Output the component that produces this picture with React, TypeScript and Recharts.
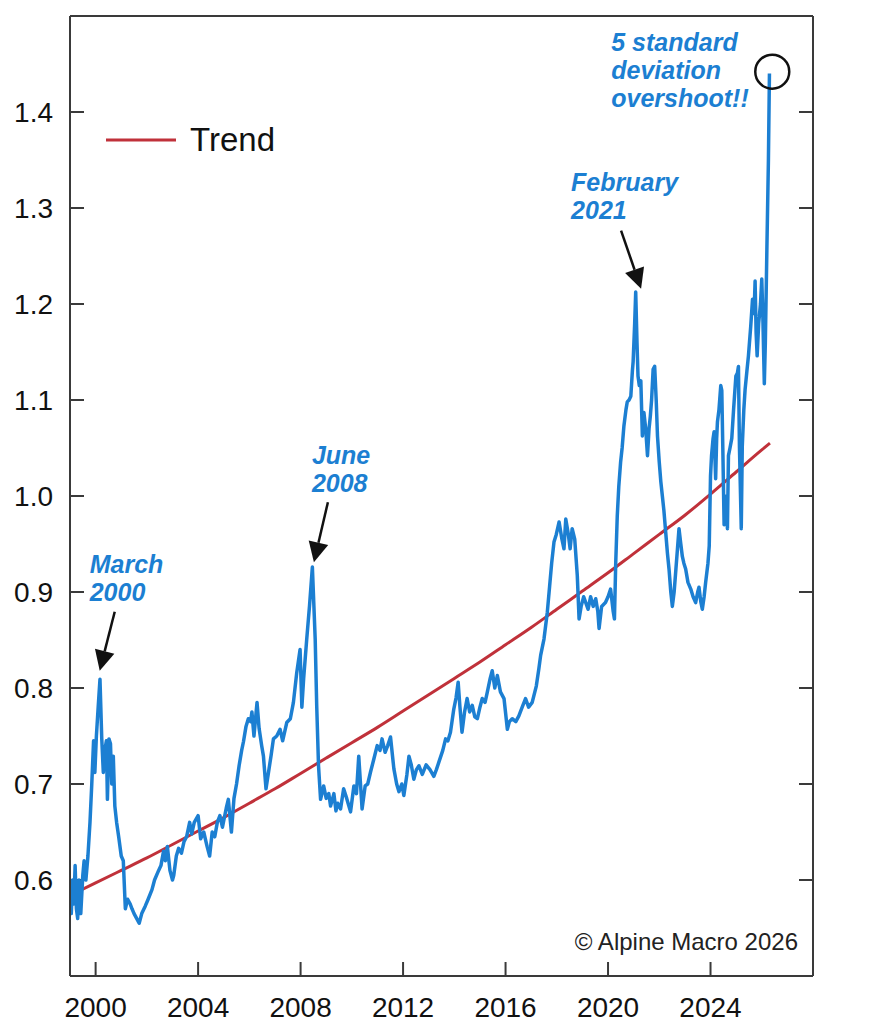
import { Legend, Line, LineChart, ReferenceDot, ReferenceLine, XAxis, YAxis } from "recharts";

const yearTicks = [2000, 2004, 2008, 2012, 2016, 2020, 2024];
const valueTicks = [0.6, 0.7, 0.8, 0.9, 1.0, 1.1, 1.2, 1.3, 1.4];

// [year, ratio]
const ratio1999to2003: [number, number][] = [
  [1999.0, 0.585], [1999.05, 0.565], [1999.1, 0.6], [1999.15, 0.575], [1999.2, 0.615],
  [1999.25, 0.57], [1999.3, 0.56], [1999.35, 0.6], [1999.42, 0.565], [1999.5, 0.605],
  [1999.55, 0.62], [1999.62, 0.6], [1999.7, 0.625], [1999.78, 0.66], [1999.85, 0.7],
  [1999.92, 0.745], [1999.97, 0.712], [2000.03, 0.75], [2000.1, 0.78], [2000.17, 0.809],
  [2000.24, 0.747], [2000.3, 0.712], [2000.36, 0.735], [2000.42, 0.745], [2000.46, 0.684],
  [2000.52, 0.747], [2000.58, 0.742], [2000.63, 0.7], [2000.69, 0.729], [2000.75, 0.677],
  [2000.82, 0.66], [2000.9, 0.645], [2001.0, 0.625], [2001.08, 0.62], [2001.16, 0.57],
  [2001.25, 0.58], [2001.35, 0.575], [2001.42, 0.57], [2001.5, 0.565], [2001.6, 0.56],
  [2001.7, 0.555], [2001.8, 0.565], [2001.94, 0.573], [2002.05, 0.58], [2002.2, 0.59],
  [2002.3, 0.6], [2002.46, 0.61], [2002.55, 0.615], [2002.65, 0.63], [2002.72, 0.62],
  [2002.8, 0.635], [2002.9, 0.61], [2003.0, 0.6], [2003.05, 0.605], [2003.15, 0.625],
  [2003.24, 0.633], [2003.35, 0.628], [2003.45, 0.64], [2003.55, 0.645], [2003.67, 0.66],
  [2003.75, 0.648], [2003.85, 0.66],
];

const ratio2004to2008: [number, number][] = [
  [2004.0, 0.667], [2004.1, 0.643], [2004.22, 0.65], [2004.35, 0.635], [2004.45, 0.625],
  [2004.55, 0.65], [2004.65, 0.645], [2004.75, 0.66], [2004.85, 0.667], [2004.95, 0.655],
  [2005.1, 0.675], [2005.18, 0.684], [2005.3, 0.65], [2005.4, 0.685], [2005.5, 0.7],
  [2005.6, 0.719], [2005.7, 0.735], [2005.77, 0.744], [2005.87, 0.76], [2005.96, 0.768],
  [2006.05, 0.765], [2006.1, 0.775], [2006.18, 0.75], [2006.3, 0.785], [2006.38, 0.758],
  [2006.48, 0.74], [2006.55, 0.729], [2006.65, 0.695], [2006.75, 0.7125], [2006.85, 0.73],
  [2006.94, 0.747], [2007.07, 0.75], [2007.2, 0.757], [2007.3, 0.745], [2007.46, 0.764],
  [2007.6, 0.768], [2007.72, 0.785], [2007.85, 0.816], [2007.98, 0.84], [2008.05, 0.78],
  [2008.12, 0.81], [2008.24, 0.851], [2008.35, 0.886], [2008.46, 0.926], [2008.57, 0.851],
  [2008.63, 0.781], [2008.7, 0.719], [2008.78, 0.684], [2008.9, 0.698],
];

const ratio2009to2013: [number, number][] = [
  [2009.0, 0.685], [2009.1, 0.69], [2009.17, 0.677], [2009.3, 0.69], [2009.38, 0.672],
  [2009.45, 0.68], [2009.56, 0.674], [2009.68, 0.695], [2009.8, 0.685], [2009.95, 0.671],
  [2010.08, 0.698], [2010.18, 0.69], [2010.27, 0.729], [2010.4, 0.674], [2010.52, 0.698],
  [2010.62, 0.7], [2010.73, 0.7125], [2010.85, 0.725], [2010.99, 0.74], [2011.1, 0.735],
  [2011.18, 0.747], [2011.3, 0.733], [2011.4, 0.74], [2011.51, 0.749], [2011.64, 0.716],
  [2011.75, 0.7], [2011.84, 0.692], [2011.95, 0.7], [2012.03, 0.688], [2012.15, 0.71],
  [2012.23, 0.729], [2012.32, 0.72], [2012.42, 0.705], [2012.52, 0.715], [2012.62, 0.719],
  [2012.75, 0.71], [2012.9, 0.72], [2013.05, 0.715], [2013.2, 0.708], [2013.3, 0.715],
  [2013.4, 0.723], [2013.55, 0.735], [2013.66, 0.747], [2013.75, 0.745], [2013.85, 0.754],
  [2013.98, 0.778],
];

const ratio2014to2019: [number, number][] = [
  [2014.07, 0.79], [2014.15, 0.806], [2014.22, 0.78], [2014.3, 0.754], [2014.4, 0.775],
  [2014.5, 0.789], [2014.6, 0.775], [2014.7, 0.782], [2014.8, 0.77], [2014.9, 0.768],
  [2015.0, 0.78], [2015.09, 0.789], [2015.2, 0.785], [2015.29, 0.796], [2015.4, 0.81],
  [2015.48, 0.818], [2015.58, 0.8], [2015.68, 0.813], [2015.8, 0.796], [2015.94, 0.789],
  [2016.07, 0.757], [2016.15, 0.765], [2016.26, 0.768], [2016.4, 0.765], [2016.52, 0.771],
  [2016.65, 0.78], [2016.78, 0.789], [2016.9, 0.78], [2017.04, 0.785], [2017.2, 0.802],
  [2017.3, 0.82], [2017.37, 0.834], [2017.5, 0.851], [2017.63, 0.879], [2017.72, 0.906],
  [2017.8, 0.93], [2017.89, 0.952], [2017.98, 0.96], [2018.09, 0.973], [2018.2, 0.955],
  [2018.28, 0.945], [2018.35, 0.976], [2018.45, 0.96], [2018.52, 0.945], [2018.6, 0.966],
  [2018.7, 0.955], [2018.8, 0.917], [2018.87, 0.872], [2018.95, 0.885], [2019.05, 0.895],
  [2019.13, 0.889], [2019.22, 0.882], [2019.32, 0.895], [2019.42, 0.885], [2019.52, 0.893],
  [2019.6, 0.88], [2019.65, 0.862], [2019.75, 0.885], [2019.9, 0.889],
];

const ratio2020to2023: [number, number][] = [
  [2020.0, 0.895], [2020.1, 0.903], [2020.2, 0.88], [2020.25, 0.872], [2020.3, 0.93],
  [2020.36, 0.979], [2020.42, 1.01], [2020.49, 1.035], [2020.55, 1.05], [2020.62, 1.073],
  [2020.7, 1.09], [2020.75, 1.098], [2020.82, 1.1], [2020.89, 1.104], [2020.95, 1.13],
  [2020.98, 1.14], [2021.04, 1.18], [2021.08, 1.2125], [2021.13, 1.16], [2021.17, 1.125],
  [2021.22, 1.115], [2021.28, 1.12], [2021.34, 1.0625], [2021.4, 1.087], [2021.47, 1.07],
  [2021.54, 1.042], [2021.6, 1.07], [2021.65, 1.083], [2021.7, 1.1], [2021.76, 1.132],
  [2021.82, 1.135], [2021.88, 1.1], [2021.93, 1.0625], [2022.0, 1.035], [2022.06, 1.015],
  [2022.12, 1.0], [2022.18, 0.985], [2022.25, 0.9625], [2022.32, 0.94], [2022.38, 0.924],
  [2022.45, 0.9], [2022.51, 0.885], [2022.58, 0.9], [2022.65, 0.924], [2022.71, 0.945],
  [2022.77, 0.966], [2022.84, 0.95], [2022.9, 0.937], [2022.96, 0.93], [2023.03, 0.924],
  [2023.12, 0.91], [2023.23, 0.903], [2023.32, 0.895], [2023.42, 0.889], [2023.5, 0.9],
  [2023.55, 0.905], [2023.62, 0.89], [2023.68, 0.882], [2023.75, 0.895], [2023.81, 0.91],
  [2023.9, 0.93], [2023.95, 0.948],
];

const ratio2024to2026: [number, number][] = [
  [2024.0, 1.021], [2024.04, 1.042], [2024.1, 1.06], [2024.14, 1.067], [2024.2, 1.018],
  [2024.24, 1.06], [2024.27, 1.077], [2024.33, 1.09], [2024.4, 1.115], [2024.44, 1.11],
  [2024.48, 1.05], [2024.53, 0.97], [2024.57, 0.973], [2024.62, 1.0], [2024.66, 0.966],
  [2024.7, 1.042], [2024.76, 1.05], [2024.83, 1.06], [2024.9, 1.09], [2024.99, 1.125],
  [2025.05, 1.128], [2025.09, 1.135], [2025.13, 1.05], [2025.2, 0.966], [2025.24, 1.052],
  [2025.3, 1.09], [2025.35, 1.111], [2025.42, 1.13], [2025.48, 1.146], [2025.57, 1.177],
  [2025.64, 1.205], [2025.7, 1.19], [2025.74, 1.224], [2025.78, 1.17], [2025.82, 1.146],
  [2025.88, 1.18], [2025.95, 1.2], [2026.0, 1.226], [2026.04, 1.19], [2026.07, 1.153],
  [2026.1, 1.117], [2026.14, 1.16], [2026.2, 1.257], [2026.26, 1.35], [2026.3, 1.44],
];

const trendYears = [
  1999, 2000, 2001, 2002, 2003, 2004, 2005, 2006, 2007, 2008, 2009, 2010, 2011, 2012,
  2013, 2014, 2015, 2016, 2017, 2018, 2019, 2020, 2021, 2022, 2023, 2024, 2025, 2026, 2026.32,
];
const trendValues = [
  0.584, 0.597, 0.61, 0.623, 0.637, 0.651, 0.665, 0.68, 0.695, 0.711, 0.727, 0.743, 0.759, 0.776,
  0.793, 0.81, 0.827, 0.845, 0.863, 0.882, 0.901, 0.92, 0.94, 0.96, 0.98, 1.002, 1.025, 1.048, 1.055,
];

// callout anchors: [year, ratio] of each arrow tip / circle centre
const marchAnchor = [2000.16, 0.818];
const juneAnchor = [2008.52, 0.931];
const febAnchor = [2021.29, 1.216];
const overshootAnchor = [2026.41, 1.442];

const X_DOMAIN: [number, number] = [1999, 2028];
const Y_DOMAIN: [number, number] = [0.5, 1.5];

const BLUE = "#1c7fd2";
const RED = "#c0313a";
const FRAME = "#3a3a3a";
const SANS = "'Liberation Sans', Arial, sans-serif";
const NOTE_SIZE = 25;
const NOTE_GAP = 28;

const ratioData = [
  ...ratio1999to2003,
  ...ratio2004to2008,
  ...ratio2009to2013,
  ...ratio2014to2019,
  ...ratio2020to2023,
  ...ratio2024to2026,
].map(([t, v]) => ({ t, v }));

const trendData = trendYears.map((t, i) => ({ t, trend: trendValues[i] }));

// inward tick marks, 14px long: plot is ~25.6 px per year and 960 px per unit
const xTickLen = 14 / 25.62;
const yTickLen = 14 / 960;

function Arrow({ x1, y1, x2, y2 }: { x1: number; y1: number; x2: number; y2: number }) {
  const angle = Math.atan2(y2 - y1, x2 - x1);
  const len = 20;
  const half = 10;
  const bx = x2 - len * Math.cos(angle);
  const by = y2 - len * Math.sin(angle);
  const px = -Math.sin(angle) * half;
  const py = Math.cos(angle) * half;
  return (
    <g>
      <line x1={x1} y1={y1} x2={bx} y2={by} stroke="#111" strokeWidth={2.5} />
      <polygon points={`${x2},${y2} ${bx + px},${by + py} ${bx - px},${by - py}`} fill="#111" />
    </g>
  );
}

function NoteText({ x, y, lines }: { x: number; y: number; lines: string[] }) {
  return (
    <text
      x={x}
      y={y}
      fill={BLUE}
      fontFamily={SANS}
      fontStyle="italic"
      fontWeight={700}
      fontSize={NOTE_SIZE}
    >
      {lines.map((line, i) => (
        <tspan key={line} x={x} dy={i === 0 ? 0 : NOTE_GAP}>
          {line}
        </tspan>
      ))}
    </text>
  );
}

function callout(lines: string[], textDx: number, tailDx: number, tailDy: number) {
  return (props: any) => {
    const { cx, cy } = props;
    return (
      <g>
        <NoteText x={cx + textDx} y={cy - 98} lines={lines} />
        <Arrow x1={cx + tailDx} y1={cy + tailDy} x2={cx} y2={cy} />
      </g>
    );
  };
}

function overshootShape(props: any) {
  const { cx, cy } = props;
  return (
    <g>
      <NoteText x={cx - 161} y={cy - 21} lines={["5 standard", "deviation", "overshoot!!"]} />
      <circle cx={cx} cy={cy} r={17} fill="none" stroke="#111" strokeWidth={2.5} />
    </g>
  );
}

function TrendLegend() {
  return (
    <div style={{ display: "flex", alignItems: "center", height: 36 }}>
      <svg width={70} height={6}>
        <line x1={0} y1={3} x2={70} y2={3} stroke={RED} strokeWidth={3} />
      </svg>
      <span style={{ marginLeft: 14, fontSize: 33, fontFamily: SANS, color: "#111", lineHeight: "36px" }}>
        Trend
      </span>
    </div>
  );
}

const labelStyle = { fontSize: 28, fontFamily: SANS, fill: "#111" };

function SideTick({ x, y, payload, anchor }: any) {
  return (
    <text x={x} y={y} dy="0.36em" textAnchor={anchor} {...labelStyle}>
      {Number(payload.value).toFixed(1)}
    </text>
  );
}

function BottomTick({ x, y, payload }: any) {
  return (
    <text x={x} y={y} dy="0.72em" textAnchor="middle" {...labelStyle}>
      {payload.value}
    </text>
  );
}

export default function App() {
  return (
    <div style={{ position: "absolute", left: 0, top: 0, width: 881, height: 1024, background: "#fff" }}>
      <LineChart width={881} height={1024} margin={{ top: 16, right: 0, bottom: 0, left: 0 }}>
        <XAxis
          dataKey="t"
          type="number"
          domain={X_DOMAIN}
          ticks={yearTicks}
          allowDataOverflow
          height={48}
          tickSize={0}
          tickMargin={21}
          tickLine={false}
          tick={<BottomTick />}
          axisLine={{ stroke: FRAME, strokeWidth: 2 }}
        />
        <YAxis
          yAxisId="left"
          orientation="left"
          type="number"
          domain={Y_DOMAIN}
          ticks={valueTicks}
          width={70}
          tickSize={0}
          tickMargin={17}
          tickLine={false}
          tick={<SideTick anchor="end" />}
          axisLine={{ stroke: FRAME, strokeWidth: 2 }}
        />
        <YAxis
          yAxisId="right"
          orientation="right"
          type="number"
          domain={Y_DOMAIN}
          ticks={valueTicks}
          width={68}
          tickSize={0}
          tickMargin={20}
          tickLine={false}
          tick={<SideTick anchor="start" />}
          axisLine={{ stroke: FRAME, strokeWidth: 2 }}
        />
        <ReferenceLine yAxisId="left" y={Y_DOMAIN[1]} stroke={FRAME} strokeWidth={2} ifOverflow="visible" />
        {valueTicks.map((v) => (
          <ReferenceLine
            key={`l${v}`}
            yAxisId="left"
            segment={[
              { x: X_DOMAIN[0], y: v },
              { x: X_DOMAIN[0] + xTickLen, y: v },
            ]}
            stroke={FRAME}
            strokeWidth={2}
            ifOverflow="visible"
          />
        ))}
        {valueTicks.map((v) => (
          <ReferenceLine
            key={`r${v}`}
            yAxisId="left"
            segment={[
              { x: X_DOMAIN[1] - xTickLen, y: v },
              { x: X_DOMAIN[1], y: v },
            ]}
            stroke={FRAME}
            strokeWidth={2}
            ifOverflow="visible"
          />
        ))}
        {yearTicks.map((t) => (
          <ReferenceLine
            key={`b${t}`}
            yAxisId="left"
            segment={[
              { x: t, y: Y_DOMAIN[0] },
              { x: t, y: Y_DOMAIN[0] + yTickLen },
            ]}
            stroke={FRAME}
            strokeWidth={2}
            ifOverflow="visible"
          />
        ))}
        <Line
          yAxisId="left"
          data={trendData}
          dataKey="trend"
          type="monotone"
          stroke={RED}
          strokeWidth={3}
          dot={false}
          isAnimationActive={false}
        />
        <Line
          yAxisId="left"
          data={ratioData}
          dataKey="v"
          type="linear"
          stroke={BLUE}
          strokeWidth={3.5}
          strokeLinejoin="round"
          dot={false}
          isAnimationActive={false}
        />
        <ReferenceDot
          yAxisId="left"
          x={marchAnchor[0]}
          y={marchAnchor[1]}
          r={1}
          ifOverflow="visible"
          shape={callout(["March", "2000"], -10, 15, -59)}
        />
        <ReferenceDot
          yAxisId="left"
          x={juneAnchor[0]}
          y={juneAnchor[1]}
          r={1}
          ifOverflow="visible"
          shape={callout(["June", "2008"], -2, 14, -60)}
        />
        <ReferenceDot
          yAxisId="left"
          x={febAnchor[0]}
          y={febAnchor[1]}
          r={1}
          ifOverflow="visible"
          shape={callout(["February", "2021"], -70, -20, -58)}
        />
        <ReferenceDot
          yAxisId="left"
          x={overshootAnchor[0]}
          y={overshootAnchor[1]}
          r={1}
          ifOverflow="visible"
          shape={overshootShape}
        />
        <Legend
          layout="vertical"
          align="center"
          verticalAlign="middle"
          wrapperStyle={{ left: 106, top: 122, width: 220, height: 36 }}
          content={() => <TrendLegend />}
        />
      </LineChart>
      <div
        style={{
          position: "absolute",
          right: 83,
          top: 928,
          fontSize: 24,
          lineHeight: "28px",
          fontFamily: SANS,
          color: "#222",
          whiteSpace: "nowrap",
        }}
      >
        © Alpine Macro 2026
      </div>
    </div>
  );
}
